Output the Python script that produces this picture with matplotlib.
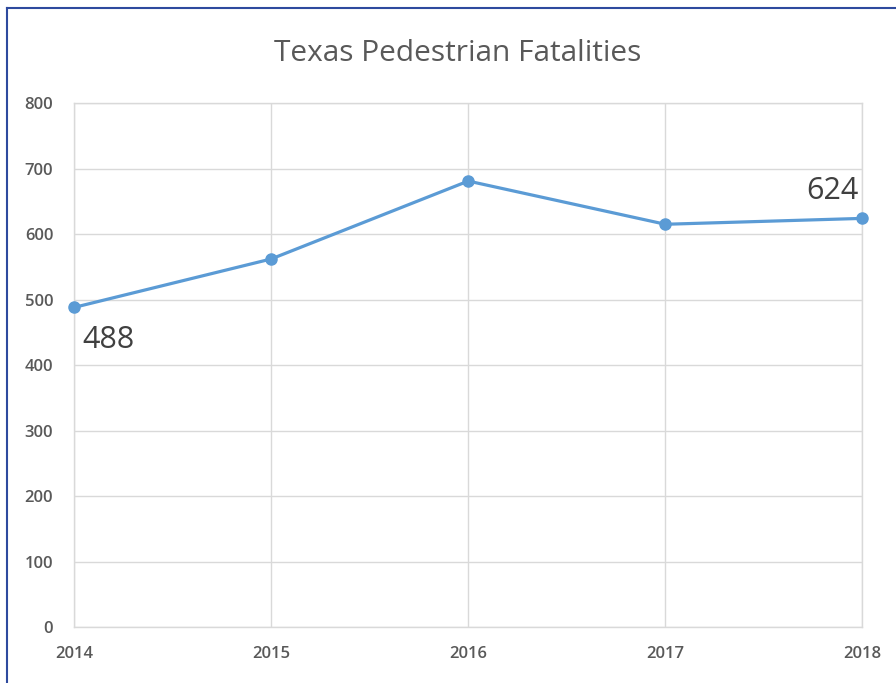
import matplotlib.pyplot as plt
from matplotlib.lines import Line2D

years = [2014, 2015, 2016, 2017, 2018]
fatalities = [488, 562, 681, 615, 624]
yticks = [0, 100, 200, 300, 400, 500, 600, 700, 800]

plt.rcParams['font.family'] = ['Open Sans', 'DejaVu Sans']

fig = plt.figure(figsize=(8.96, 6.83), dpi=100)
ax = fig.add_axes([0.0826, 0.082, 0.880, 0.767])

ax.plot(years, fatalities, color='#5B9BD5', linewidth=2.3, marker='o',
        markersize=8, zorder=3, clip_on=False)

ax.set_xlim(years[0], years[-1])
ax.set_ylim(0, 800)
ax.set_xticks(years)
ax.set_yticks(yticks)
ax.grid(True, color='#D9D9D9', linewidth=1)
ax.set_axisbelow(True)
for s in ax.spines.values():
    s.set_color('#D9D9D9')
    s.set_linewidth(1)
ax.tick_params(length=0, labelsize=12, labelcolor='#595959')
ax.tick_params(axis='x', pad=14)
ax.tick_params(axis='y', pad=15)
for lab in ax.get_xticklabels() + ax.get_yticklabels():
    lab.set_fontweight('semibold')

ax.set_title('Texas Pedestrian Fatalities', fontsize=21.5, color='#595959', pad=30, x=0.487)

# data labels on the first and last points
ax.annotate(str(fatalities[0]), (years[0], fatalities[0]), xytext=(6, -13),
            textcoords='offset points', ha='left', va='top', fontsize=22, color='#404040')
ax.annotate(str(fatalities[-1]), (years[-1], fatalities[-1]), xytext=(-3, 9),
            textcoords='offset points', ha='right', va='bottom', fontsize=22, color='#404040')

# blue frame on top and left edges
fig.add_artist(Line2D([7 / 896, 1], [1 - 8 / 683, 1 - 8 / 683], color='#2E4A9E', linewidth=1.5))
fig.add_artist(Line2D([7 / 896, 7 / 896], [0, 1 - 8 / 683], color='#2E4A9E', linewidth=1.5))

fig.savefig('out.png', dpi=100)
